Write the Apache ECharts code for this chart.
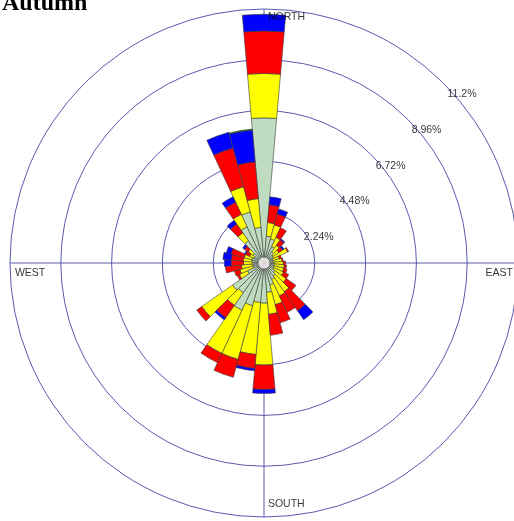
<!DOCTYPE html>
<html><head><meta charset="utf-8">
<script src="https://cdn.jsdelivr.net/npm/echarts@6.0.0/dist/echarts.min.js"></script>
<style>html,body{margin:0;padding:0;background:#fff;overflow:hidden}#c{width:514px;height:521px}</style>
</head><body><div id="c"></div>
<script>
const directions = ['0','10','20','30','40','50','60','70','80','90','100','110','120','130','140','150','160','170',
  '180','190','200','210','220','230','240','250','260','270','280','290','300','310','320','330','340','350'];
// percent frequency per direction, by speed class (inner to outer)
const band1 = [6.40,1.19,1.10,0.80,0.60,0.50,0.45,0.40,0.40,0.45,0.45,0.45,0.50,0.60,0.70,0.80,1.00,1.30,
  1.77,1.75,1.95,2.30,1.60,1.70,0.80,0.50,0.50,0.50,0.55,0.55,0.50,0.60,1.20,1.76,2.33,1.58];
const band2 = [1.96,0.60,0.64,0.45,0.35,0.30,0.70,0.30,0.40,0.40,0.45,0.45,0.45,0.60,0.85,0.80,0.90,0.97,
  2.73,2.30,2.45,2.10,0.68,1.65,0.40,0.60,0.50,0.40,0.37,0.35,0.20,0.25,0.43,0.61,1.15,1.27];
const band3 = [1.87,0.79,0.50,0.47,0.30,0.20,0.05,0.10,0.05,0.10,0.10,0.15,0.25,0.52,1.02,0.80,0.83,0.93,
  1.08,0.62,0.82,0.45,0.67,0.27,0.10,0.25,0.71,0.55,0.53,0.60,0.20,0.20,0.47,0.59,1.77,1.63];
const band4 = [0.74,0.35,0.23,0,0.05,0.08,0,0,0,0,0,0,0,0,0.48,0,0,0,
  0.17,0.10,0,0,0.11,0,0,0,0,0.30,0.37,0.22,0.05,0.10,0.20,0.26,0.72,1.41];
const band5 = [0,0,0,0,0,0,0,0,0,0,0,0,0,0,0,0,0,0,
  0,0,0,0,0,0,0,0,0,0,0,0,0,0,0,0,0,0.04];
const ringTicks = [2.24, 4.48, 6.72, 8.96, 11.2];
const ringLabels = ['2.24%', '4.48%', '6.72%', '8.96%', '11.2%'];
const compassNames = ['NORTH', 'EAST', 'SOUTH', 'WEST'];
const compassAngles = [0, 90, 180, 270];

const bands = [band1, band2, band3, band4, band5];
const bandColors = ['#c0dcc0', '#ffff00', '#ff0000', '#0000ff', '#008000'];
const ringColor = '#5a5ab0';
const C = [264, 263], R = 254;

const chart = echarts.init(document.getElementById('c'), null, {renderer: 'canvas'});
const compassLabelCfg = [
  {position: [4, 3], align: 'left', verticalAlign: 'top'},
  {position: [-5, 4.5], align: 'right', verticalAlign: 'top'},
  {position: [4, -18], align: 'left', verticalAlign: 'top'},
  {position: [5, 4.5], align: 'left', verticalAlign: 'top'}
];
const series = bands.map((b, i) => ({
  type: 'bar', coordinateSystem: 'polar', polarIndex: 0, stack: 'w',
  name: 'class' + (i + 1),
  data: b.map(v => v === 0 ? null : v),
  barCategoryGap: '0%',
  itemStyle: {color: bandColors[i], borderColor: '#3a3a3a', borderWidth: 0.6},
  z: 3
}));
series.push({
  type: 'scatter', coordinateSystem: 'polar', polarIndex: 1,
  data: ringTicks.map(v => [v, 45]), symbolSize: 0.1,
  itemStyle: {color: 'rgba(0,0,0,0)'}, z: 5, silent: true,
  label: {show: true, formatter: p => ringLabels[p.dataIndex], position: [4, 5], align: 'left', verticalAlign: 'top',
    fontFamily: 'Liberation Sans, Arial', fontSize: 10.5, color: '#000'}
});
series.push({
  type: 'scatter', coordinateSystem: 'polar', polarIndex: 1,
  data: compassAngles.map((a, i) => ({value: [11.2, a], label: compassLabelCfg[i]})), symbolSize: 0.1,
  itemStyle: {color: 'rgba(0,0,0,0)'}, z: 5, silent: true,
  label: {show: true, formatter: p => compassNames[p.dataIndex],
    fontFamily: 'Liberation Sans, Arial', fontSize: 10.5, color: '#000'}
});
series.push({
  type: 'scatter', coordinateSystem: 'polar', polarIndex: 1,
  data: [[0, 0]], symbolSize: 12, z: 10, silent: true,
  itemStyle: {color: '#fff', borderColor: '#555', borderWidth: 0.8}
});

chart.setOption({
  animation: false,
  backgroundColor: '#fff',
  title: {text: 'Autumn', left: 2, top: -8.5, padding: 0,
    textStyle: {fontFamily: 'Liberation Serif, Times New Roman', fontWeight: 'bold', fontSize: 24, color: '#000'}},
  polar: [{center: C, radius: R}, {center: C, radius: R}],
  angleAxis: [
    {polarIndex: 0, type: 'category', data: directions, startAngle: 95, clockwise: true, boundaryGap: true,
      axisLine: {show: false}, axisTick: {show: false}, axisLabel: {show: false}, splitLine: {show: false}},
    {polarIndex: 1, type: 'value', min: 0, max: 360, interval: 90, startAngle: 90, clockwise: true,
      axisLine: {show: false}, axisTick: {show: false}, axisLabel: {show: false},
      splitLine: {show: true, lineStyle: {color: ringColor, width: 1}}}
  ],
  radiusAxis: [
    {polarIndex: 0, type: 'value', min: 0, max: 11.2, interval: 2.24,
      axisLine: {show: false}, axisTick: {show: false}, axisLabel: {show: false},
      splitLine: {show: true, lineStyle: {color: ringColor, width: 1}}},
    {polarIndex: 1, type: 'value', min: 0, max: 11.2, interval: 2.24,
      axisLine: {show: false}, axisTick: {show: false}, axisLabel: {show: false}, splitLine: {show: false}}
  ],
  series: series
});
</script>
</body></html>
